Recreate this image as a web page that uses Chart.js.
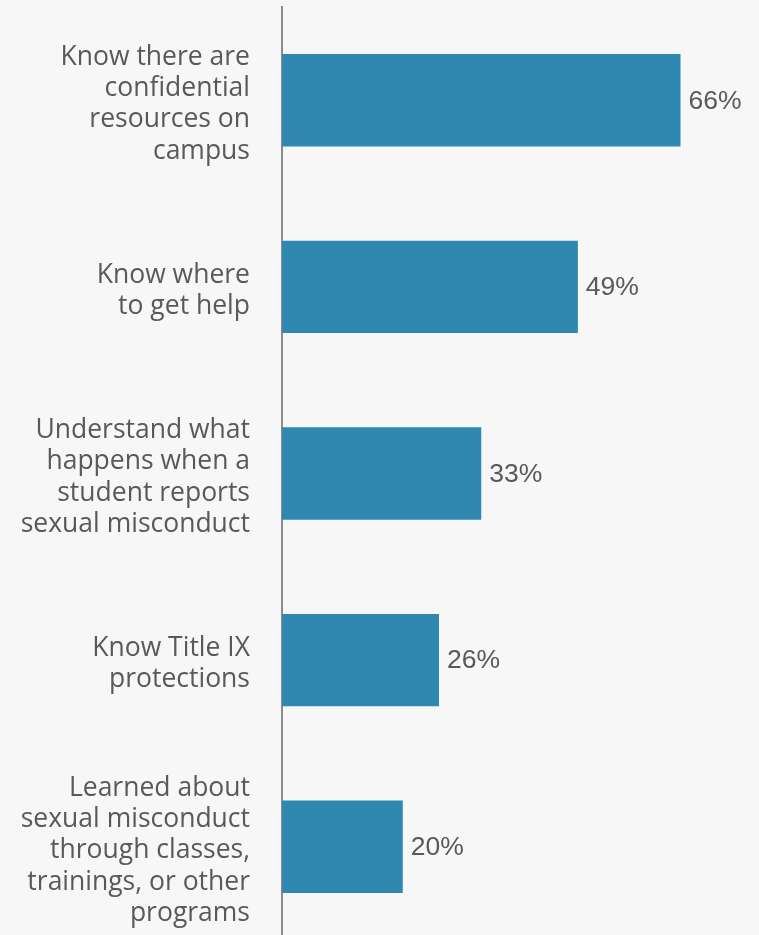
<!DOCTYPE html>
<html>
<head>
<meta charset="utf-8">
<script src="https://cdn.jsdelivr.net/npm/chart.js@4/dist/chart.umd.min.js"></script>
<style>
  html, body { margin: 0; padding: 0; background: #f7f7f7; overflow: hidden; }
  #wrap { position: relative; width: 759px; height: 940px; }
</style>
</head>
<body>
<div id="wrap"><canvas id="awarenessChart"></canvas></div>
<script>
// Survey items (one array of lines per bar) and share of students, in percent
const categories = [
  ['Know there are', 'confidential', 'resources on', 'campus'],
  ['Know where', 'to get help'],
  ['Understand what', 'happens when a', 'student reports', 'sexual misconduct'],
  ['Know Title IX', 'protections'],
  ['Learned about', 'sexual misconduct', 'through classes,', 'trainings, or other', 'programs']
];
const percentages = [66, 49, 33, 26, 20];
const axisMax = 79;

const colors = {
  bar: '#2e88af',
  text: '#595959',
  axis: '#8c8c8c'
};

// Writes "NN%" just past the end of each bar
const valueLabels = {
  id: 'valueLabels',
  afterDatasetsDraw(chart) {
    const ctx = chart.ctx;
    const meta = chart.getDatasetMeta(0);
    ctx.save();
    ctx.font = "26.5px 'Liberation Sans', Arial, sans-serif";
    ctx.fillStyle = colors.text;
    ctx.textAlign = 'left';
    ctx.textBaseline = 'middle';
    meta.data.forEach((bar, i) => {
      ctx.fillText(percentages[i] + '%', bar.x + 8, bar.y + 1);
    });
    ctx.restore();
  }
};

new Chart(document.getElementById('awarenessChart'), {
  type: 'bar',
  data: {
    labels: categories,
    datasets: [{
      data: percentages,
      backgroundColor: colors.bar,
      borderWidth: 0,
      categoryPercentage: 0.99,
      barPercentage: 0.5
    }]
  },
  options: {
    indexAxis: 'y',
    responsive: true,
    maintainAspectRatio: false,
    animation: false,
    layout: { padding: { top: 7, right: 0, bottom: 0, left: 0 } },
    plugins: {
      legend: { display: false },
      tooltip: { enabled: false }
    },
    scales: {
      x: {
        display: false,
        min: 0,
        max: axisMax
      },
      y: {
        // fixed axis width; tall wrapped labels must not shrink the plot
        afterFit(scale) {
          scale.width = 282;
          scale.paddingTop = 0;
          scale.paddingBottom = 0;
        },
        grid: { display: false, drawTicks: false },
        border: { display: true, color: colors.axis, width: 2 },
        ticks: {
          color: colors.text,
          padding: 32,
          labelOffset: 4,
          font: {
            family: "'Open Sans', sans-serif",
            size: 26.5,
            lineHeight: 1.18
          }
        }
      }
    }
  },
  plugins: [valueLabels]
});
</script>
</body>
</html>
